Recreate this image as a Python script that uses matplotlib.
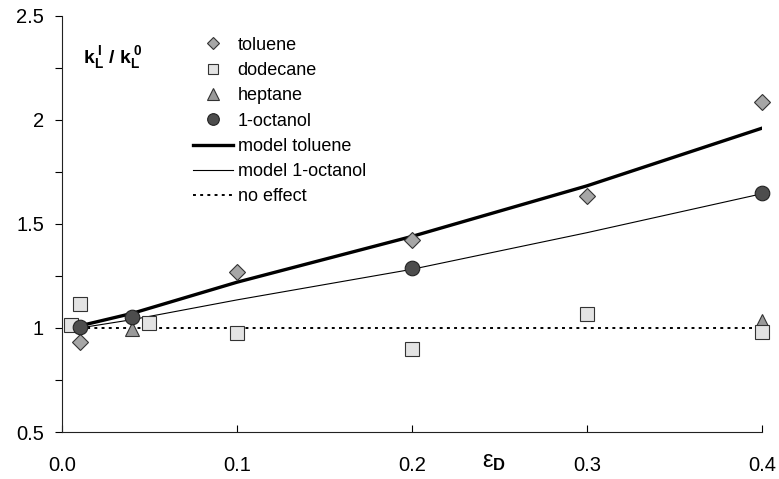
import numpy as np
import matplotlib
matplotlib.use("Agg")
import matplotlib.pyplot as plt

plt.rcParams["font.family"] = ["Liberation Sans", "DejaVu Sans"]
plt.rcParams["mathtext.fontset"] = "custom"
plt.rcParams["mathtext.rm"] = "Liberation Sans"
plt.rcParams["mathtext.it"] = "Liberation Sans"
plt.rcParams["mathtext.bf"] = "Liberation Sans:bold"

##==============================================================================

# Data

tol_x = [0.01, 0.1, 0.2, 0.3, 0.4]
tol_y = [0.935, 1.27, 1.425, 1.635, 2.085]

dod_x = [0.005, 0.01, 0.05, 0.1, 0.2, 0.3, 0.4]
dod_y = [1.014, 1.115, 1.024, 0.975, 0.898, 1.067, 0.98]

hep_x = [0.04, 0.4]
hep_y = [0.995, 1.034]

oct_x = [0.01, 0.04, 0.2, 0.4]
oct_y = [1.005, 1.053, 1.287, 1.648]

model_x = [0.01, 0.04, 0.1, 0.2, 0.3, 0.4]
model_tol = [1.01, 1.07, 1.22, 1.44, 1.683, 1.96]
model_oct = [1.0, 1.04, 1.135, 1.282, 1.458, 1.645]

noeff_x = [0.01, 0.4]
noeff_y = [1.0, 1.0]

xticks = [0.0, 0.1, 0.2, 0.3, 0.4]
xticklabels = ["0.0", "0.1", "0.2", "0.3", "0.4"]
yticks = [0.5, 1.0, 1.5, 2.0, 2.5]
yticklabels = ["0.5", "1", "1.5", "2", "2.5"]

##==============================================================================

# plotting

fig = plt.figure(figsize=(7.79, 4.79), dpi=100)
ax = fig.add_axes([0.0796, 0.098, 0.8985, 0.869])

ln_tol, = ax.plot(model_x, model_tol, c="k", lw=2.4, zorder=2, label="model toluene")
ln_oct, = ax.plot(model_x, model_oct, c="k", lw=0.8, zorder=2, label="model 1-octanol")
ln_no, = ax.plot(noeff_x, noeff_y, c="k", lw=1.4, ls=(0, (1.5, 2.2)), zorder=2,
                 label="no effect")

ec = "#333333"
p_hep, = ax.plot(hep_x, hep_y, ls="none", marker="^", ms=10, mfc="#999999",
                 mec=ec, mew=0.8, zorder=3, label="heptane", clip_on=False)
p_dod, = ax.plot(dod_x, dod_y, ls="none", marker="s", ms=9.5, mfc="#e3e3e3",
                 mec=ec, mew=0.8, zorder=4, label="dodecane", clip_on=False)
p_tol, = ax.plot(tol_x, tol_y, ls="none", marker="D", ms=8, mfc="#a6a6a6",
                 mec=ec, mew=0.8, zorder=5, label="toluene", clip_on=False)
p_oct, = ax.plot(oct_x, oct_y, ls="none", marker="o", ms=10.5, mfc="#4d4d4d",
                 mec="#222222", mew=0.8, zorder=6, label="1-octanol", clip_on=False)

ax.set_xlim(0, 0.4)
ax.set_ylim(0.5, 2.5)
ax.set_xticks(xticks)
ax.set_xticklabels(xticklabels)
ax.set_yticks(yticks)
ax.set_yticklabels(yticklabels)
ax.set_yticks([0.75, 1.25, 1.75, 2.25], minor=True)

for s in ["top", "right"]:
    ax.spines[s].set_visible(False)
for s in ["left", "bottom"]:
    ax.spines[s].set_linewidth(0.8)
    ax.spines[s].set_color("#222222")

ax.tick_params(axis="x", direction="in", length=5, width=0.8, labelsize=14.5, pad=17)
ax.tick_params(axis="y", direction="out", length=5, width=0.8, labelsize=14.5, pad=8)
ax.tick_params(axis="y", which="minor", direction="out", length=5, width=0.8)

ax.text(0.03, 0.887, r"$\mathbf{k_L^{\ I}\ /\ k_L^{\ 0}}$", transform=ax.transAxes,
        fontsize=14, ha="left", va="baseline")
ax.text(0.617, -0.072, r"$\mathrm{\varepsilon}_{\mathbf{D}}$", transform=ax.transAxes,
        fontsize=17, ha="center", va="center")

handles = [p_tol, p_dod, p_hep, p_oct, ln_tol, ln_oct, ln_no]
leg = ax.legend(handles=handles, loc="upper left", bbox_to_anchor=(0.187, 0.95),
                frameon=False, fontsize=13, handlelength=2.2, handletextpad=0.28,
                labelspacing=0.46, borderaxespad=0, borderpad=0, markerscale=0.8)

fig.savefig("out.png", dpi=100)
